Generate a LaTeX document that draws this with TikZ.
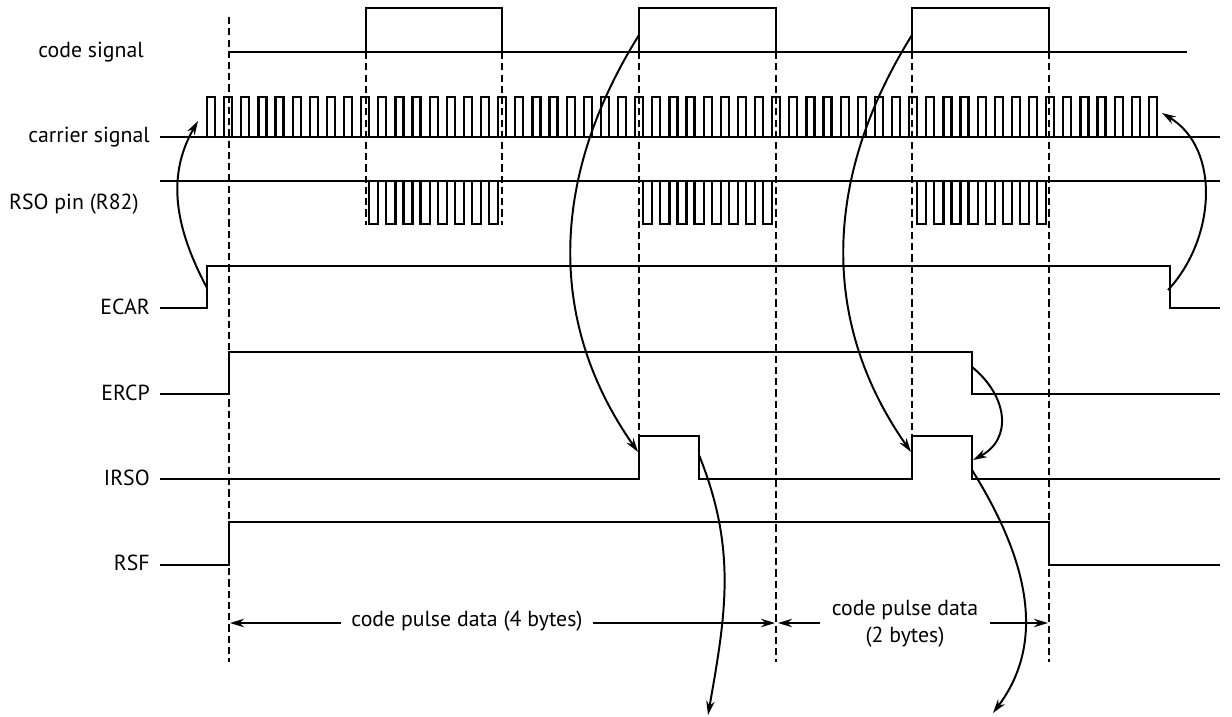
\documentclass[tikz,border=0pt]{standalone}
\usepackage{fontspec}
\setmainfont{PT Sans}
\usetikzlibrary{arrows.meta}
\tikzset{
  sig/.style={line width=1.6pt, line join=miter},
  lowsig/.style={line width=0.8pt},
  guide/.style={line width=1.2pt, dash pattern=on 5pt off 3pt},
  cause/.style={line width=1.4pt, -{Stealth[length=10pt,width=6pt]}},
  dim/.style={line width=1.4pt, -{Stealth[length=10pt,width=6pt]}},
  lbl/.style={font=\fontsize{15.5}{19}\selectfont, inner sep=0pt},
}
\begin{document}
\begin{tikzpicture}[x=0.025cm, y=-0.025cm]
  \useasboundingbox (0,0) rectangle (1232,717);

  % signal names
  \node[lbl, anchor=east] (codelbl) at (144,52) {code signal};
  \node[lbl, anchor=east] (carlbl) at (150,137) {carrier signal};
  \node[lbl, anchor=east] (rsolbl) at (139,204) {RSO pin (R82)};
  \node[lbl, anchor=east] (ecarlbl) at (150,307) {ECAR};
  \node[lbl, anchor=east] (ercplbl) at (150,393) {ERCP};
  \node[lbl, anchor=east] (irsolbl) at (150,478) {IRSO};
  \node[lbl, anchor=east] (rsflbl) at (150,563) {RSF};

  % code signal
  \draw[lowsig] (229,52) -- (1187,52);
  \draw[sig] (1163,52) -- (1187,52);
  \foreach \a/\b in {366/502, 639/776, 912/1049}
    \draw[sig] (\a,52) -- (\a,8) -- (\b,8) -- (\b,52);

  % carrier signal
  \draw[sig] (160,137) -- (1220,137);
  \foreach \k in {0,...,55}
    \draw[sig] (207+17.125*\k,137) -- ++(0,-40) -- ++(8,0) -- ++(0,40);

  % RSO pin
  \draw[sig] (160,181) -- (1220,181);
  \foreach \s in {9,25,41} \foreach \j in {0,...,7}
    \draw[sig] (215+17.125*\s+17.125*\j,181) -- ++(0,43) -- ++(9.125,0) -- ++(0,-43);

  % flags
  \draw[sig] (160,308) -- (207,308) -- (207,266) -- (1170,266) -- (1170,308) -- (1220,308);
  \draw[sig] (160,394) -- (229,394) -- (229,352) -- (972,352) -- (972,394) -- (1220,394);
  \draw[sig] (160,479) -- (639,479) -- (639,436) -- (699,436) -- (699,479) -- (912,479)
    -- (912,436) -- (972,436) -- (972,479) -- (1220,479);
  \draw[sig] (160,565) -- (229,565) -- (229,522) -- (1049,522) -- (1049,565) -- (1220,565);

  % timing guides
  \foreach \x/\ya/\yb in {229/17/662, 366/52/225, 502/52/225, 639/52/436,
                          776/52/662, 912/52/436, 1049/52/662}
    \draw[guide] (\x,\ya) -- (\x,\yb);

  % causes
  \coordinate (ecarup) at (207,288);
  \coordinate (carstart) at (198,121);
  \coordinate (codeupa) at (639,35);
  \coordinate (irsoupa) at (638,452);
  \coordinate (codeupb) at (912,35);
  \coordinate (irsoupb) at (911,452);
  \coordinate (ercpdn) at (972,367);
  \coordinate (irsodnb) at (973,460);
  \coordinate (irsodna) at (699,455);
  \coordinate (outa) at (708,715);
  \coordinate (irsodnc) at (972,470);
  \coordinate (outb) at (993,713);
  \coordinate (ecardn) at (1168,290);
  \coordinate (carend) at (1162,113);

  \draw[cause] (ecarup) to[out=118, in=240] (carstart);
  \draw[cause] (codeupa) to[out=238, in=125] (irsoupa);
  \draw[cause] (codeupb) to[out=238, in=125] (irsoupb);
  \draw[cause] (ercpdn) to[out=-39, in=28, looseness=1.25] (irsodnb);
  \draw[cause] (irsodna) to[out=-68, in=80] (outa);
  \draw[cause] (irsodnc) to[out=-58, in=53] (outb);
  \draw[cause] (ecardn) to[out=47, in=-31] (carend);

  % data lengths
  \node[lbl, inner xsep=7pt] (datafour) at (467,621) {code pulse data (4 bytes)};
  \node[lbl, inner xsep=8pt, align=center] (datatwo) at (905,624) {code pulse data\\(2 bytes)};
  \coordinate (ga) at (230,623);
  \coordinate (gb) at (775,623);
  \coordinate (gc) at (778,623);
  \coordinate (gd) at (1048,623);
  \draw[dim] (datafour.west |- ga) -- (ga);
  \draw[dim] (datafour.east |- gb) -- (gb);
  \draw[dim] (datatwo.west |- gc) -- (gc);
  \draw[dim] (datatwo.east |- gd) -- (gd);
\end{tikzpicture}
\end{document}
